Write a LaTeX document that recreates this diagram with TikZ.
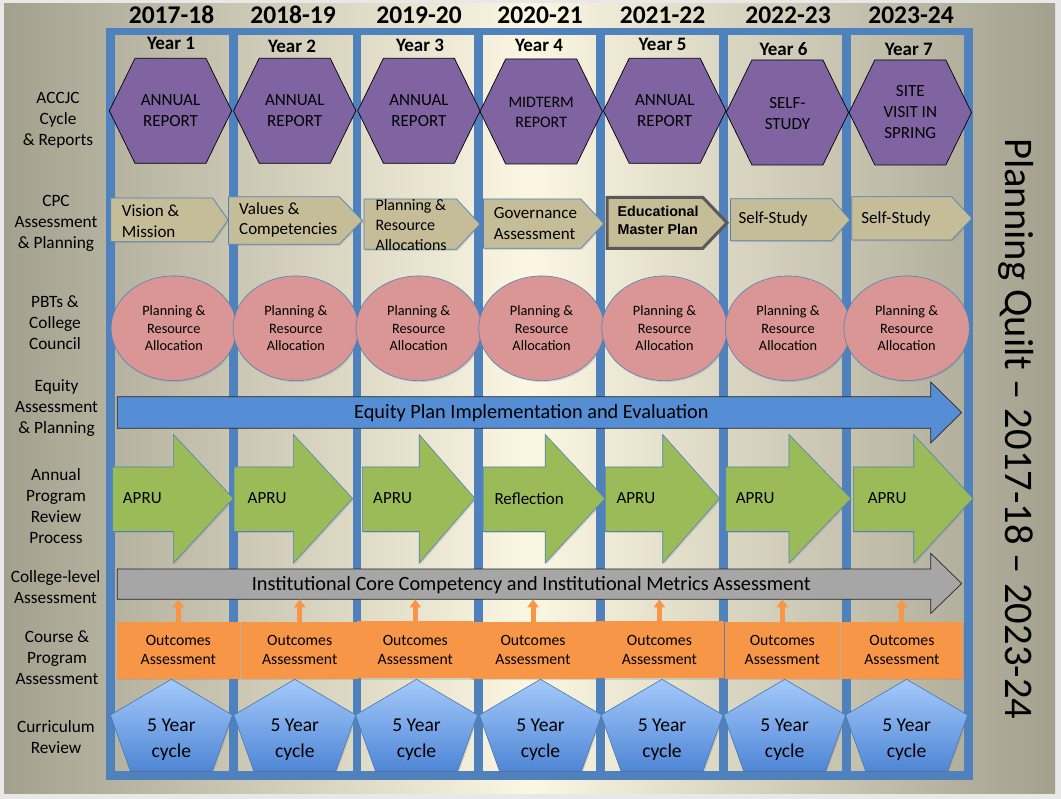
\documentclass[tikz,border=0pt]{standalone}
\usepackage{fontspec}
\setmainfont{Carlito}
\newfontfamily\planfont{Liberation Sans}
\usepackage{tikz}
\usetikzlibrary{calc}
\usetikzlibrary{shapes.geometric}
\usetikzlibrary{shadows,arrows.meta}
\definecolor{pagegray}{HTML}{E8E8E8}
\definecolor{quiltout}{HTML}{A3A08E}
\definecolor{quiltin}{HTML}{FBF7E2}
\definecolor{frameblue}{HTML}{4F81BD}
\definecolor{accjc}{HTML}{8064A2}
\definecolor{cpctan}{HTML}{C4BD97}
\definecolor{pbtpink}{HTML}{D99694}
\definecolor{equityblue}{HTML}{558ED5}
\definecolor{aprugreen}{HTML}{9BBB59}
\definecolor{coregray}{HTML}{A6A6A6}
\definecolor{outorange}{HTML}{F79646}
\definecolor{cyctop}{HTML}{A5CAFB}
\definecolor{cycbottom}{HTML}{4F86D6}
\tikzset{
	softshadow/.style={drop shadow={opacity=0.25,shadow xshift=1.2pt,shadow yshift=-1.5pt}},
	bar/.style={fill=frameblue},
	rowlabel/.style={align=center, inner sep=0pt, font=\fontsize{17.3}{21}\selectfont},
	yearhead/.style={anchor=base, inner sep=0pt, font=\bfseries\fontsize{25.5}{30}\selectfont},
	yearnum/.style={anchor=base, inner sep=0pt, font=\bfseries\fontsize{19}{23}\selectfont},
	report/.style={fill=accjc, draw=black, line width=0.7pt},
	reporttext/.style={inner sep=0pt, text=black, align=center, font=\fontsize{17}{21}\selectfont},
	cpcbox/.style={fill=cpctan, draw=frameblue, line width=0.7pt, softshadow},
	cpctext/.style={anchor=west, align=left, inner sep=0pt, font=\fontsize{17}{20.7}\selectfont},
	pbt/.style={ellipse, minimum width=125.5pt, minimum height=104.7pt, inner sep=0pt, fill=pbtpink,
		draw=frameblue, line width=0.6pt, align=center, softshadow, font=\fontsize{14.3}{17.7}\selectfont},
	bigarrow/.style={draw=black!85, line width=0.7pt},
	bigtext/.style={inner sep=0pt, font=\fontsize{20.3}{24}\selectfont},
	apru/.style={fill=aprugreen, draw=frameblue, line width=0.6pt, softshadow},
	aprutext/.style={anchor=west, inner sep=0pt, font=\fontsize{17}{21}\selectfont},
	outbox/.style={fill=outorange, minimum height=57pt, inner sep=0pt, align=center, softshadow,
		font=\fontsize{15.7}{19}\selectfont},
	outarrow/.style={draw=outorange, line width=5pt, -{Triangle[width=11pt,length=8pt]}},
	cycbox/.style={top color=cyctop, bottom color=cycbottom, draw=frameblue, line width=0.6pt, softshadow},
	cyctext/.style={align=center, inner sep=0pt, font=\fontsize{19.6}{25.6}\selectfont},
}

\begin{document}
\begin{tikzpicture}[x=1pt,y=-1pt]
	% shapes that repeat along the rows
	\def\hexa#1#2{(#1-61.2,#2) -- (#1-35.5,#2-52.5) -- (#1+35.5,#2-52.5) -- (#1+61.2,#2) -- (#1+35.5,#2+52.5) -- (#1-35.5,#2+52.5) -- cycle}
	\def\cpc#1#2#3#4#5{(#1,#4) -- (#2,#4) -- (#3,{(#4+#5)/2}) -- (#2,#5) -- (#1,#5) -- cycle}
	\def\arrowshape#1#2#3{(#1,467) -- (#2,467) -- (#2,434.5) -- (#3,498.5) -- (#2,563) -- (#2,531.5) -- (#1,531.5) -- cycle}
	\def\pent#1{(#1,679.3) -- (#1+61,715) -- (#1+41,771) -- (#1-41,771) -- (#1-61,715) -- cycle}

	% page and shaded panel
	\useasboundingbox (0,0) rectangle (1061,799);
	\fill[pagegray] (0,0) rectangle (1061,799);
	\shade[left color=quiltout, right color=quiltin] (4,4) rectangle (530,793);
	\shade[left color=quiltin, right color=quiltout] (529.5,4) rectangle (1055,793);

	% blue frame and column dividers
	\fill[bar] (106,28.3) rectangle (973,35.3);
	\fill[bar] (106,771) rectangle (973,780);
	\fill[bar] (106,28.3) rectangle (115,780);
	\fill[bar] (229,28.3) rectangle (238,780);
	\fill[bar] (352.6,28.3) rectangle (361,780);
	\fill[bar] (474,28.3) rectangle (483,780);
	\fill[bar] (596,28.3) rectangle (604.5,780);
	\fill[bar] (719,28.3) rectangle (728,780);
	\fill[bar] (842,28.3) rectangle (851,780);
	\fill[bar] (964,28.3) rectangle (973,780);

	% row labels
	\node[rowlabel] (lbaccjc) at (58,120) {ACCJC\\Cycle\\\& Reports};
	\node[rowlabel] (lbcpc) at (56,223) {CPC\\Assessment\\\& Planning};
	\node[rowlabel] (lbpbt) at (55,323) {PBTs \&\\College\\Council};
	\node[rowlabel] (lbequity) at (56.6,408) {Equity\\Assessment\\\& Planning};
	\node[rowlabel] (lbapru) at (56,506.5) {Annual\\Program\\Review\\Process};
	\node[rowlabel] (lbcollege) at (55.6,587.5) {College-level\\Assessment};
	\node[rowlabel] (lbcourse) at (57,658) {Course \&\\Program\\Assessment};
	\node[rowlabel] (lbcurr) at (56,737) {Curriculum\\Review};

	% years
	\node[yearhead] (yr1) at (171.5,24) {2017-18};
	\node[yearhead] (yr2) at (293,24) {2018-19};
	\node[yearhead] (yr3) at (419,24) {2019-20};
	\node[yearhead] (yr4) at (540,24) {2020-21};
	\node[yearhead] (yr5) at (662.5,24) {2021-22};
	\node[yearhead] (yr6) at (788,24) {2022-23};
	\node[yearhead] (yr7) at (911,24) {2023-24};
	\node[yearnum] (num1) at (171,50) {Year 1};
	\node[yearnum] (num2) at (292,52.7) {Year 2};
	\node[yearnum] (num3) at (420,51.7) {Year 3};
	\node[yearnum] (num4) at (539,51.7) {Year 4};
	\node[yearnum] (num5) at (662.6,51) {Year 5};
	\node[yearnum] (num6) at (783.5,55.7) {Year 6};
	\node[yearnum] (num7) at (908.8,56) {Year 7};

	% ACCJC cycle and reports
	\filldraw[report] \hexa{170.5}{110.8};
	\filldraw[report] \hexa{294.7}{110.8};
	\filldraw[report] \hexa{418.9}{110.8};
	\filldraw[report] \hexa{541.2}{111.5};
	\filldraw[report] \hexa{664.7}{110.8};
	\filldraw[report] \hexa{787.4}{112.5};
	\filldraw[report] \hexa{910.3}{112.5};
	\node[reporttext] (acc1) at (170.5,111) {ANNUAL\\REPORT};
	\node[reporttext] (acc2) at (294.7,111) {ANNUAL\\REPORT};
	\node[reporttext] (acc3) at (418.9,111) {ANNUAL\\REPORT};
	\node[reporttext, font=\fontsize{16}{20}\selectfont] (acc4) at (541.2,112.5) {MIDTERM\\REPORT};
	\node[reporttext] (acc5) at (664.7,111) {ANNUAL\\REPORT};
	\node[reporttext] (acc6) at (787.4,113.5) {SELF-\\STUDY};
	\node[reporttext] (acc7) at (910.3,112.5) {SITE\\VISIT IN\\SPRING};

	% CPC assessment and planning
	\filldraw[cpcbox] \cpc{110.7}{212.7}{228}{198}{241.7};
	\filldraw[cpcbox] \cpc{228.5}{339}{362.7}{196.7}{244.3};
	\filldraw[cpcbox] \cpc{364}{456.4}{480}{199}{249.3};
	\filldraw[cpcbox] \cpc{483.4}{580.8}{603.8}{199}{248.3};
	\filldraw[cpcbox, draw=black!65, line width=3pt] \cpc{607.2}{702.7}{727}{197.3}{248.3};
	\filldraw[cpcbox] \cpc{730.5}{831.4}{850}{198.7}{240.7};
	\filldraw[cpcbox] \cpc{851.7}{951.6}{972}{196.7}{240};
	\node[cpctext] (cpc1) at (121.7,221.5) {Vision \&\\Mission};
	\node[cpctext] (cpc2) at (239,220) {Values \&\\Competencies};
	\node[cpctext, font=\fontsize{16}{20}\selectfont] (cpc3) at (375.3,225) {Planning \&\\Resource\\Allocations};
	\node[cpctext] (cpc4) at (493.6,223.3) {Governance\\Assessment};
	\node[cpctext, font=\planfont\bfseries\fontsize{14.3}{18}\selectfont] (cpc5) at (617.4,220.5) {Educational\\Master Plan};
	\node[cpctext] (cpc6) at (738.3,219) {Self-Study};
	\node[cpctext] (cpc7) at (861.2,219) {Self-Study};

	% PBTs and college council
	\node[pbt] (pbt1) at (173.8,328.3) {Planning \&\\Resource\\Allocation};
	\node[pbt] (pbt2) at (295.8,328.3) {Planning \&\\Resource\\Allocation};
	\node[pbt] (pbt3) at (418.7,328.3) {Planning \&\\Resource\\Allocation};
	\node[pbt] (pbt4) at (541.5,328.3) {Planning \&\\Resource\\Allocation};
	\node[pbt] (pbt5) at (664.5,328.3) {Planning \&\\Resource\\Allocation};
	\node[pbt] (pbt6) at (788,328.3) {Planning \&\\Resource\\Allocation};
	\node[pbt] (pbt7) at (906.6,328.3) {Planning \&\\Resource\\Allocation};

	% equity plan
	\filldraw[bigarrow, fill=equityblue] (117.3,396.7) -- (930.7,396.7) -- (930.7,382) -- (961.7,412.5)
		-- (930.7,443) -- (930.7,428.3) -- (117.3,428.3) -- cycle;
	\node[bigtext] (equity) at (531.4,413) {Equity Plan Implementation and Evaluation};

	% annual program review
	\filldraw[apru] \arrowshape{112.6}{173.4}{233.3};
	\filldraw[apru] \arrowshape{234}{293.4}{352.6};
	\filldraw[apru] \arrowshape{362.4}{419.2}{475};
	\filldraw[apru] \arrowshape{483.4}{545.2}{605};
	\filldraw[apru] \arrowshape{605.2}{662.7}{719.6};
	\filldraw[apru] \arrowshape{725.7}{789}{851};
	\filldraw[apru] \arrowshape{853.4}{913.7}{973};
	\node[aprutext] (apru1) at (122.7,498.3) {APRU};
	\node[aprutext] (apru2) at (247.5,498.3) {APRU};
	\node[aprutext] (apru3) at (373,498.3) {APRU};
	\node[aprutext] (apru4) at (494.3,498.3) {Reflection};
	\node[aprutext] (apru5) at (616.4,498.3) {APRU};
	\node[aprutext] (apru6) at (735.6,498.3) {APRU};
	\node[aprutext] (apru7) at (867.6,498.3) {APRU};

	% college-level assessment
	\filldraw[bigarrow, fill=coregray] (117.3,569) -- (930.7,569) -- (930.7,553.3) -- (961.7,583.5)
		-- (930.7,613.5) -- (930.7,599.3) -- (117.3,599.3) -- cycle;
	\node[bigtext] (core) at (531.2,585) {Institutional Core Competency and Institutional Metrics Assessment};
	\coordinate (corebase) at (0,599.3);

	% course and program outcomes
	\node[outbox, minimum width=123.4pt] (out1) at (178.3,650.3) {Outcomes\\Assessment};
	\node[outbox, minimum width=117.4pt] (out2) at (299.7,650.3) {Outcomes\\Assessment};
	\node[outbox, minimum width=116pt] (out3) at (415.3,649.5) {Outcomes\\Assessment};
	\node[outbox, minimum width=124pt] (out4) at (533,650.3) {Outcomes\\Assessment};
	\node[outbox, minimum width=128.7pt] (out5) at (659.4,649.5) {Outcomes\\Assessment};
	\node[outbox, minimum width=115.2pt] (out6) at (782.3,650.3) {Outcomes\\Assessment};
	\node[outbox, minimum width=121.9pt] (out7) at (901.9,650.3) {Outcomes\\Assessment};
	\draw[outarrow] (out1.north) -- (out1.north |- corebase);
	\draw[outarrow] (out2.north) -- (out2.north |- corebase);
	\draw[outarrow] (out3.north) -- (out3.north |- corebase);
	\draw[outarrow] (out4.north) -- (out4.north |- corebase);
	\draw[outarrow] (out5.north) -- (out5.north |- corebase);
	\draw[outarrow] (out6.north) -- (out6.north |- corebase);
	\draw[outarrow] (out7.north) -- (out7.north |- corebase);

	% curriculum review
	\filldraw[cycbox] \pent{171.4};
	\filldraw[cycbox] \pent{294.8};
	\filldraw[cycbox] \pent{416.5};
	\filldraw[cycbox] \pent{540.5};
	\filldraw[cycbox] \pent{662};
	\filldraw[cycbox] \pent{784.7};
	\filldraw[cycbox] \pent{906.6};
	\node[cyctext] (cyc1) at (171.4,740) {5 Year\\cycle};
	\node[cyctext] (cyc2) at (294.8,740) {5 Year\\cycle};
	\node[cyctext] (cyc3) at (416.5,740) {5 Year\\cycle};
	\node[cyctext] (cyc4) at (540.5,740) {5 Year\\cycle};
	\node[cyctext] (cyc5) at (662,740) {5 Year\\cycle};
	\node[cyctext] (cyc6) at (784.7,740) {5 Year\\cycle};
	\node[cyctext] (cyc7) at (906.6,740) {5 Year\\cycle};

	% title down the right side
	\node[rotate=-90, anchor=base west, inner sep=0pt, font=\fontsize{40.6}{48}\selectfont] (title) at (1005,138)
		{Planning Quilt -- 2017-18 -- 2023-24};
\end{tikzpicture}
\end{document}
